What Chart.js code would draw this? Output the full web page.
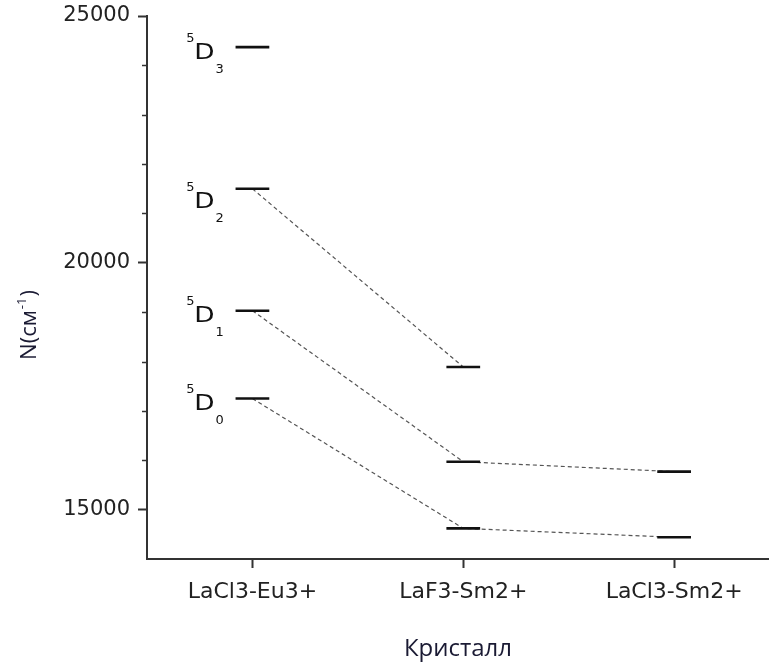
<!DOCTYPE html>
<html>
<head>
<meta charset="utf-8">
<script src="https://cdn.jsdelivr.net/npm/chart.js@4"></script>
<style>
  html, body { margin: 0; padding: 0; background: #fff; }
  #c { display: block; }
</style>
</head>
<body>
<canvas id="c" width="769" height="666"></canvas>
<script>
// Crystals along the horizontal axis
const crystals = ['LaCl3-Eu3+', 'LaF3-Sm2+', 'LaCl3-Sm2+'];

// 5D_J level energies, cm^-1 (J = 0, 1, 2, ...)
const euLaCl3 = [17250, 19030, 21500, 24370];
const smLaF3 = [14620, 15970, 17890];
const smLaCl3 = [14440, 15770];

// J indices of the 5D terms
const termJ = ['0', '1', '2', '3'];

// Labelled ticks of the energy axis
const yLabelTicks = [15000, 20000, 25000];

const levelSets = [euLaCl3, smLaF3, smLaCl3];
const HALF = 0.08;           // half length of a level dash, in category units

const datasets = [];
levelSets.forEach((levels, ci) => {
  levels.forEach(v => {
    datasets.push({
      data: [{ x: ci - HALF, y: v }, { x: ci + HALF, y: v }],
      showLine: true,
      borderColor: '#111',
      borderWidth: 2.6,
      borderCapStyle: 'butt',
      pointRadius: 0,
      order: 1
    });
  });
});
// dashed correlation lines between the same J across crystals
termJ.forEach((j, k) => {
  const pts = [];
  levelSets.forEach((levels, ci) => {
    if (k < levels.length) pts.push({ x: ci, y: levels[k] });
  });
  if (pts.length > 1) {
    datasets.push({
      data: pts,
      showLine: true,
      borderColor: '#555',
      borderWidth: 1.2,
      borderDash: [4, 3],
      pointRadius: 0,
      order: 2
    });
  }
});

// term symbols, minor ticks and the energy axis title
const decor = {
  id: 'decor',
  afterDraw(chart) {
    const { ctx, chartArea } = chart;
    const xs = chart.scales.x, ys = chart.scales.y;

    // minor ticks every 1000 cm^-1
    ctx.save();
    ctx.strokeStyle = '#333';
    ctx.lineWidth = 1.5;
    for (let v = ys.min + 1000; v < ys.max; v += 1000) {
      if (v % 5000 === 0) continue;
      const py = Math.round(ys.getPixelForValue(v)) + 0.5;
      ctx.beginPath();
      ctx.moveTo(chartArea.left - 5, py);
      ctx.lineTo(chartArea.left, py);
      ctx.stroke();
    }
    ctx.restore();

    // 5D_J labels beside the LaCl3-Eu3+ levels
    const nudge = [0, 0, 8, 1];
    const xr = xs.getPixelForValue(0 - HALF) - 21;
    ctx.save();
    ctx.fillStyle = '#111';
    euLaCl3.forEach((v, i) => {
      const yb = ys.getPixelForValue(v) + 11 + nudge[i];
      ctx.save();
      ctx.translate(xr, yb);
      ctx.scale(1.2, 1);
      ctx.font = '22px "DejaVu Sans"';
      ctx.textAlign = 'right';
      ctx.textBaseline = 'alphabetic';
      ctx.fillText('D', 0, 0);
      ctx.restore();

      ctx.font = '13px "DejaVu Sans"';
      ctx.textAlign = 'right';
      ctx.fillText('5', xr - 20, yb - 17);
      ctx.textAlign = 'left';
      ctx.fillText(termJ[i], xr + 1, yb + 14);
    });
    ctx.restore();

    // energy axis title: N(см⁻¹)
    ctx.save();
    ctx.translate(36, 325);
    ctx.rotate(-Math.PI / 2);
    ctx.fillStyle = '#1a1a33';
    ctx.textBaseline = 'alphabetic';
    ctx.textAlign = 'left';
    const big = '22px "Open Sans"', small = '13px "Open Sans"';
    const p1 = 'N(см', p3 = ')';
    ctx.font = big; const w1 = ctx.measureText(p1).width;
    ctx.font = small; const w2 = ctx.measureText('-1').width;
    ctx.font = big; const w3 = ctx.measureText(p3).width;
    const x0 = -(w1 + w2 + w3 + 2) / 2;
    ctx.font = big; ctx.fillText(p1, x0, 0);
    ctx.font = small; ctx.fillText('-1', x0 + w1 + 1, -10);
    ctx.font = big; ctx.fillText(p3, x0 + w1 + w2 + 2, 0);
    ctx.restore();
  }
};

new Chart(document.getElementById('c'), {
  type: 'scatter',
  data: { datasets },
  options: {
    responsive: false,
    animation: false,
    layout: { padding: { top: 16, left: 0, right: 0, bottom: 0 } },
    plugins: { legend: { display: false }, tooltip: { enabled: false } },
    scales: {
      x: {
        type: 'linear',
        min: -0.5,
        max: 2.45,
        afterBuildTicks: s => { s.ticks = crystals.map((_, i) => ({ value: i })); },
        afterFit: s => { s.height = 107; s.paddingLeft = 0; s.paddingRight = 0; },
        ticks: {
          callback: v => crystals[v],
          font: { family: 'DejaVu Sans', size: 22 },
          color: '#222',
          padding: 11,
          maxRotation: 0,
          autoSkip: false
        },
        grid: { drawOnChartArea: false, tickLength: 9, tickWidth: 2, tickColor: '#333' },
        border: { color: '#333', width: 2 },
        title: {
          display: true,
          text: 'Кристалл',
          font: { family: 'Open Sans', size: 24 },
          color: '#1a1a33',
          padding: { top: 0, bottom: 2 }
        }
      },
      y: {
        type: 'linear',
        min: 14000,
        max: 25000,
        afterBuildTicks: s => { s.ticks = yLabelTicks.map(v => ({ value: v })); },
        afterFit: s => { s.width = 147; s.paddingTop = 0; s.paddingBottom = 0; },
        ticks: {
          callback: v => String(v),
          font: { family: 'DejaVu Sans', size: 21 },
          color: '#222',
          padding: 8
        },
        grid: { drawOnChartArea: false, tickLength: 9, tickWidth: 2, tickColor: '#333' },
        border: { color: '#333', width: 2 }
      }
    }
  },
  plugins: [decor]
});
</script>
</body>
</html>
